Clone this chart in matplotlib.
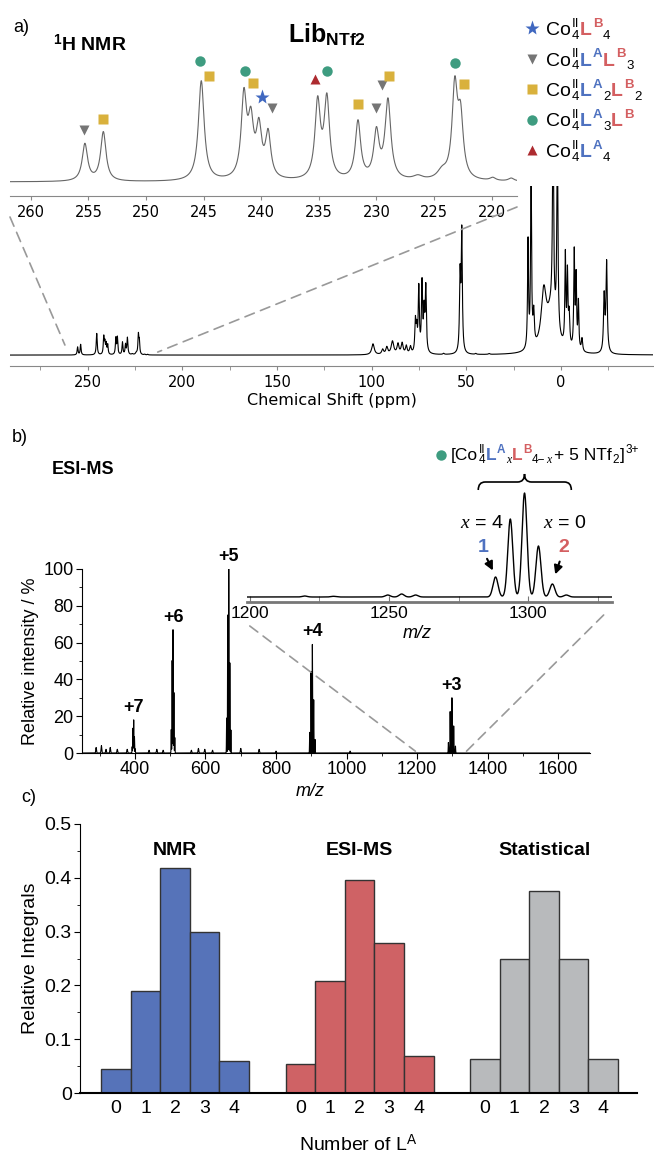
import numpy as np
import matplotlib
matplotlib.use('Agg')
import matplotlib.pyplot as plt
from matplotlib.patches import ConnectionPatch, PathPatch
from matplotlib.path import Path

plt.rcParams['font.family'] = ['Liberation Sans', 'DejaVu Sans']
plt.rcParams['mathtext.fontset'] = 'custom'
plt.rcParams['mathtext.rm'] = 'Liberation Sans'
plt.rcParams['mathtext.bf'] = 'Liberation Sans:bold'
plt.rcParams['mathtext.it'] = 'Liberation Serif:italic'
plt.rcParams['mathtext.sf'] = 'Liberation Sans'

W, H = 654, 1153

# ---------------- data ----------------
# 1H NMR peaks: shift (ppm), height (inset units), half width (ppm)
nmr_shift = [255.3, 253.7, 245.2, 241.5, 240.9, 240.2, 239.4, 235.1, 234.3,
             231.6, 230.0, 229.0, 224.3, 223.2, 222.7, 226.4, 219.9, 218.3,
             99.3, 94.2, 92.0, 89.0, 86.1, 83.9, 81.7, 79.5, 76.9, 76.2,
             75.1, 73.4, 72.3, 71.4, 62.0, 53.3, 52.4, 45.0, 38.0,
             17.4, 15.8, 14.4, 9.1, 5.0, 4.2, 1.9,
             -2.3, -3.4, -4.3, -7.0, -8.0, -9.2, -11.1, -22.8, -24.1]
nmr_height = [37, 49, 100, 81, 52, 48, 44, 76, 79,
              58, 46, 79, 8, 90, 58, 4, 3, 3,
              51, 23, 33, 61, 47, 51, 37, 33, 145, 100,
              300, 320, 180, 300, 5, 350, 560, 4, 4,
              500, 850, 150, 250, 190, 900, 900,
              420, 330, 150, 450, 330, 220, 60, 260, 420]
nmr_hwhm = [0.28, 0.28, 0.3, 0.28, 0.28, 0.28, 0.28, 0.28, 0.28,
            0.28, 0.28, 0.3, 0.5, 0.28, 0.28, 0.5, 0.3, 0.3,
            0.8, 0.6, 0.6, 0.8, 0.6, 0.6, 0.5, 0.5, 0.35, 0.35,
            0.35, 0.35, 0.35, 0.35, 0.4, 0.35, 0.35, 0.4, 0.4,
            0.3, 0.3, 0.4, 1.6, 3.0, 0.35, 0.35,
            0.3, 0.3, 0.4, 0.3, 0.3, 0.3, 0.4, 0.4, 0.4]

# species markers on the zoomed NMR region (shift, height)
lb4_shift, lb4_y = [239.9], [85]
la1_shift, la1_y = [255.4, 239.1, 230.0, 229.5], [52, 74, 74, 97]
la2_shift, la2_y = [253.7, 244.5, 240.7, 231.6, 228.9, 222.4], [63, 106, 99, 78, 106, 98]
la3_shift, la3_y = [245.3, 241.4, 234.3, 223.2], [121, 111, 111, 119]
la4_shift, la4_y = [235.3], [103]

# ESI-MS clusters
ms_charge = ['+7', '+6', '+5', '+4', '+3']
ms_center = [396.5, 508, 666, 903, 1298.6]
ms_top = [18, 67, 100, 59, 30]
envelope = [0.19, 0.75, 1.0, 0.49, 0.125]
ms_noise_mz = [290, 305, 318, 330, 350, 378, 440, 462, 480, 560, 580, 598, 620, 700, 752, 800, 1010]
ms_noise_int = [3, 4, 2, 3, 2, 2, 1.5, 2, 1.5, 1.5, 2.5, 2, 1.5, 2.5, 2, 1, 1]

# zoom on the 3+ cluster
zoom_mz = [1219.7, 1230, 1249.5, 1254.5, 1259.5, 1288.2, 1293.5, 1298.6, 1303.6, 1308.6, 1313.6]
zoom_int = [1, 0.7, 2, 3, 2, 20, 78, 104, 51, 13, 2]

# c) distributions
n_la = [0, 1, 2, 3, 4]
nmr_frac = [0.045, 0.19, 0.418, 0.30, 0.06]
esi_frac = [0.054, 0.209, 0.395, 0.278, 0.068]
stat_frac = [0.0625, 0.25, 0.375, 0.25, 0.0625]

BLUE = '#4f72c0'
RED = '#d45f61'
C_STAR = '#4068c0'
C_TRI = '#757575'
C_SQ = '#d9b13c'
C_CIR = '#3e9c80'
C_UP = '#ad2b30'


def lorentz(x, pos, hgt, wid):
    y = np.zeros_like(x)
    for p, h, w in zip(pos, hgt, wid):
        y += h * w ** 2 / ((x - p) ** 2 + w ** 2)
    return y


def gauss(x, pos, hgt, s):
    y = np.zeros_like(x)
    for p, h in zip(pos, hgt):
        y += h * np.exp(-0.5 * ((x - p) / s) ** 2)
    return y


fig = plt.figure(figsize=(W / 100, H / 100), dpi=100)
rend = fig.canvas.get_renderer()


def box(l, t, r, b):
    return [l / W, 1 - b / H, (r - l) / W, (b - t) / H]


ov = fig.add_axes([0, 0, 1, 1])
ov.set_xlim(0, W)
ov.set_ylim(H, 0)
ov.axis('off')


def rich(x, y, parts, fs, gap=0.8):
    # parts: (text, color, kind, bold, italic); kind n / sup / sub / ss / g
    px = fs * 100 / 72
    cur = x
    for text, color, kind, bold, ital in parts:
        if kind == 'g':
            cur += text
            continue
        kw = dict(color=color, fontweight='bold' if bold else 'normal', va='baseline', ha='left')
        if ital:
            kw.update(fontfamily='Liberation Serif', fontstyle='italic')
        if kind == 'n':
            items = [(text, fs, 0)]
        elif kind == 'sup':
            items = [(text, 0.68 * fs, -0.42 * px)]
        elif kind == 'sub':
            items = [(text, 0.68 * fs, 0.2 * px)]
        else:
            items = [(text[0], 0.68 * fs, -0.42 * px), (text[1], 0.68 * fs, 0.2 * px)]
        w = 0
        for s, size, dy in items:
            t = ov.text(cur, y + dy, s, fontsize=size, **kw)
            w = max(w, t.get_window_extent(renderer=rend).width)
        cur += w + gap
    return cur


def P(text, color='black', kind='n', bold=False, ital=False):
    return (text, color, kind, bold, ital)


CO = [P('Co'), P(('II', '4'), kind='ss')]
LA = [P('L', BLUE, bold=True), P('A', BLUE, 'sup', bold=True)]
LB = [P('L', RED, bold=True), P('B', RED, 'sup', bold=True)]

# ---------------- a) NMR ----------------
ax_nmr = fig.add_axes(box(10, 186, 653, 366))
ax_ins = fig.add_axes(box(10, 50, 517, 196))
for a in (ax_nmr, ax_ins):
    a.patch.set_alpha(0)
    for s in ('top', 'right', 'left'):
        a.spines[s].set_visible(False)
    a.spines['bottom'].set_color('#888888')
    a.set_yticks([])
    a.tick_params(axis='x', colors='#888888', labelcolor='black', direction='out', length=3)

ppm = np.arange(295, -50, -0.01)
spec = lorentz(ppm, nmr_shift, nmr_height, nmr_hwhm)
ax_nmr.plot(ppm, spec, color='black', lw=0.8)
ax_nmr.set_xlim(291, -48.6)
ax_nmr.set_ylim(-51, 790)
ax_nmr.set_xticks(np.arange(250, -1, -50))
ax_nmr.set_xticks(np.arange(275, -50, -25), minor=True)
ax_nmr.tick_params(axis='x', which='minor', colors='#888888', length=3)
for lab in ax_nmr.get_xticklabels():
    lab.set_fontfamily('DejaVu Sans')
    lab.set_fontsize(10.5)
ax_nmr.set_xlabel('Chemical Shift (ppm)', fontfamily='DejaVu Sans', fontsize=11.5, labelpad=2)

ax_ins.plot(ppm, spec, color='#666666', lw=0.8)
ax_ins.set_xlim(261.8, 217.8)
ax_ins.set_ylim(-14, 132)
ax_ins.set_xticks(np.arange(260, 217, -5))
for lab in ax_ins.get_xticklabels():
    lab.set_fontfamily('DejaVu Sans')
    lab.set_fontsize(10.5)

mk = dict(ls='none', clip_on=False, mec='none')
ax_ins.plot(lb4_shift, lb4_y, marker='*', ms=11, color=C_STAR, **mk)
ax_ins.plot(la1_shift, la1_y, marker='v', ms=7.5, color=C_TRI, **mk)
ax_ins.plot(la2_shift, la2_y, marker='s', ms=7, color=C_SQ, **mk)
ax_ins.plot(la3_shift, la3_y, marker='o', ms=7.5, color=C_CIR, **mk)
ax_ins.plot(la4_shift, la4_y, marker='^', ms=7.5, color=C_UP, **mk)

dash = dict(ls=(0, (6, 4)), color='#999999', lw=1.2)
fig.add_artist(ConnectionPatch(xyA=(261.8, -35), coordsA=ax_ins.transData,
                               xyB=(262, 47), coordsB=ax_nmr.transData, **dash))
fig.add_artist(ConnectionPatch(xyA=(217.8, -25), coordsA=ax_ins.transData,
                               xyB=(213, 14), coordsB=ax_nmr.transData, **dash))

ov.text(13, 27, 'a)', fontsize=13, va='center')
ov.text(53, 45, r'$^{\mathbf{1}}$H NMR', fontsize=14, fontweight='bold', va='center')
ov.text(327, 35, r'Lib$_{\mathbf{NTf2}}$', fontsize=18, fontweight='bold', va='center', ha='center')

legend_rows = [('*', C_STAR, 11, CO + LB + [P('4', kind='sub')]),
               ('v', C_TRI, 7.5, CO + LA + LB + [P('3', kind='sub')]),
               ('s', C_SQ, 7, CO + LA + [P('2', kind='sub')] + LB + [P('2', kind='sub')]),
               ('o', C_CIR, 7.5, CO + LA + [P('3', kind='sub')] + LB),
               ('^', C_UP, 7.5, CO + LA + [P('4', kind='sub')])]
for i, (m, c, s, parts) in enumerate(legend_rows):
    y = 28 + i * 30.5
    ov.plot([532], [y], marker=m, ms=s, color=c, mec='none', ls='none')
    rich(546, y + 7, parts, 14)

# ---------------- b) ESI-MS ----------------
ax_ms = fig.add_axes(box(82, 569, 590, 753))
ax_ms.patch.set_alpha(0)
mz = np.arange(250, 1690, 0.05)
ms = gauss(mz, ms_noise_mz, ms_noise_int, 1.0)
for lab, c, top in zip(ms_charge, ms_center, ms_top):
    z = int(lab)
    pos = [c + (k - 2) * 15.0 / z for k in range(5)]
    ms += gauss(mz, pos, [top * e for e in envelope], 0.5)
ax_ms.plot(mz, ms, color='black', lw=0.8)
ax_ms.set_xlim(250, 1690)
ax_ms.set_ylim(0, 100)
for s in ('top', 'right'):
    ax_ms.spines[s].set_visible(False)
ax_ms.set_xticks(np.arange(400, 1601, 200))
ax_ms.set_xticks(np.arange(300, 1690, 100), minor=True)
ax_ms.set_yticks(np.arange(0, 101, 20))
ax_ms.set_yticks(np.arange(10, 100, 20), minor=True)
ax_ms.tick_params(which='major', direction='out', length=4, labelsize=13, pad=2)
ax_ms.tick_params(which='minor', direction='out', length=2)
ax_ms.set_ylabel('Relative intensity / %', fontsize=13, labelpad=3)
for lab, c, top in zip(ms_charge, ms_center, ms_top):
    ax_ms.annotate(lab, (c, top), xytext=(0, 3), textcoords='offset points',
                   ha='center', va='bottom', fontsize=13, fontweight='bold')
ov.text(310, 792, 'm/z', fontsize=13, fontstyle='italic', ha='center', va='center')

ax_msi = fig.add_axes(box(247, 487, 612, 602))
ax_msi.patch.set_alpha(0)
mzi = np.arange(1199, 1330, 0.05)
ax_msi.plot(mzi, gauss(mzi, zoom_mz, zoom_int, 0.9), color='black', lw=1)
ax_msi.set_xlim(1199, 1330)
ax_msi.set_ylim(-5, 110)
for s in ('top', 'right', 'left'):
    ax_msi.spines[s].set_visible(False)
ax_msi.spines['bottom'].set_color('#777777')
ax_msi.spines['bottom'].set_linewidth(2)
ax_msi.set_yticks([])
ax_msi.set_xticks([1200, 1250, 1300])
ax_msi.set_xticks([1225, 1275, 1325], minor=True)
ax_msi.tick_params(which='both', direction='in', length=4, colors='#777777',
                   labelcolor='black', labelsize=12.5, pad=3)
ov.text(417, 633, 'm/z', fontsize=13, fontstyle='italic', ha='center', va='center')

fig.add_artist(ConnectionPatch(xyA=(1200, -29), coordsA=ax_msi.transData,
                               xyB=(1195, 1), coordsB=ax_ms.transData, **dash))
fig.add_artist(ConnectionPatch(xyA=(1327, -18), coordsA=ax_msi.transData,
                               xyB=(1340, 1), coordsB=ax_ms.transData, **dash))

# brace over the cluster
bx0, bx1, tip = 1282, 1315.4, zoom_mz[7]
verts = [(bx0, 107), (bx0, 115), (bx0 + 2.5, 115), (tip - 2.5, 115), (tip, 115), (tip, 123),
         (tip, 115), (tip + 2.5, 115), (bx1 - 2.5, 115), (bx1, 115), (bx1, 107)]
codes = [Path.MOVETO, Path.CURVE3, Path.CURVE3, Path.LINETO, Path.CURVE3, Path.CURVE3,
         Path.CURVE3, Path.CURVE3, Path.LINETO, Path.CURVE3, Path.CURVE3]
ax_msi.add_patch(PathPatch(Path(verts, codes), fill=False, lw=1.2, color='black', clip_on=False))

ov.plot([441], [455], marker='o', ms=7.5, color=C_CIR, mec='none')
brace_label = ([P('[Co'), P(('II', '4'), kind='ss')] + LA + [P('x', kind='sub', ital=True)] + LB +
               [P('4\u2212', kind='sub'), P('x', kind='sub', ital=True), P(3, kind='g'),
                P('+ 5 NTf'), P('2', kind='sub'), P(']'), P('3+', kind='sup')])
rich(451, 460, brace_label, 12.5, gap=0.5)
ov.text(482, 523, r'$x$ = 4', fontsize=14, ha='center', va='center')
ov.text(565, 523, r'$x$ = 0', fontsize=14, ha='center', va='center')
ov.text(483, 547, '1', fontsize=14, fontweight='bold', color=BLUE, ha='center', va='center')
ov.text(564, 547, '2', fontsize=14, fontweight='bold', color=RED, ha='center', va='center')
arr = dict(arrowstyle='-|>,head_length=0.5,head_width=0.25', color='black', lw=1.5)
ax_msi.annotate('', xy=(zoom_mz[5] - 0.5, 24), xytext=(-6, 12), textcoords='offset points',
                arrowprops=arr, annotation_clip=False)
ax_msi.annotate('', xy=(zoom_mz[9] + 0.7, 20), xytext=(4.5, 13), textcoords='offset points',
                arrowprops=arr, annotation_clip=False)

ov.text(12, 437, 'b)', fontsize=13, va='center')
ov.text(52, 470, 'ESI-MS', fontsize=13, fontweight='bold', va='center')

# ---------------- c) distributions ----------------
ax_c = fig.add_axes(box(80, 824, 637, 1093))
ax_c.patch.set_alpha(0)
groups = [('NMR', nmr_frac, '#5673b9', 0.0),
          ('ESI-MS', esi_frac, '#cf6265', 6.23),
          ('Statistical', stat_frac, '#b8babc', 12.46)]
ticks, labels = [], []
for name, vals, col, off in groups:
    xs = [off + n for n in n_la]
    ax_c.bar(xs, vals, width=1, color=col, edgecolor='#333333', lw=1)
    ax_c.text(off + 2, 0.45, name, fontsize=14, fontweight='bold', ha='center', va='center')
    ticks += xs
    labels += [str(n) for n in n_la]
ax_c.set_xlim(-1.21, 17.6)
ax_c.set_ylim(0, 0.5)
ax_c.set_xticks(ticks)
ax_c.set_xticklabels(labels)
ax_c.set_yticks(np.arange(0, 0.51, 0.1))
ax_c.set_yticklabels(['0', '0.1', '0.2', '0.3', '0.4', '0.5'])
ax_c.set_yticks(np.arange(0.05, 0.5, 0.1), minor=True)
for s in ('top', 'right'):
    ax_c.spines[s].set_visible(False)
ax_c.spines['bottom'].set_linewidth(1.5)
ax_c.tick_params(axis='x', length=0, labelsize=14, pad=5)
ax_c.tick_params(axis='y', which='major', direction='out', length=4, labelsize=14, pad=2)
ax_c.tick_params(axis='y', which='minor', direction='out', length=2)
ax_c.set_ylabel('Relative Integrals', fontsize=14, labelpad=4)
ax_c.set_xlabel(r'Number of L$^{\mathrm{A}}$', fontsize=14, labelpad=12)
ov.text(21, 797, 'c)', fontsize=13, va='center')

fig.savefig('out.png', dpi=100)
